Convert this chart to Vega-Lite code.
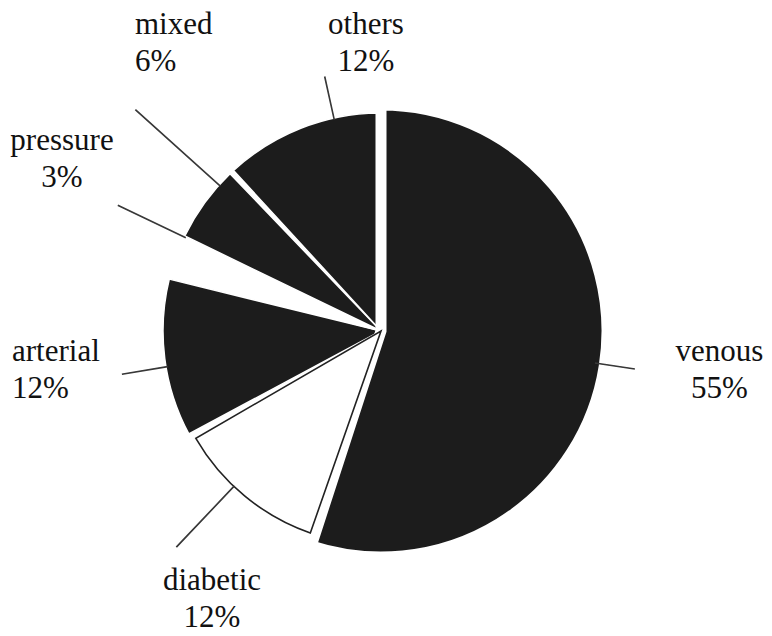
{
  "$schema": "https://vega.github.io/schema/vega-lite/v6.json",
  "width": 762,
  "height": 662,
  "autosize": {"type": "none"},
  "padding": {"left": 0, "top": 0, "right": 10, "bottom": 0},
  "background": "white",
  "config": {"view": {"stroke": null}},
  "data": {
    "values": [
      {"cat": "venous", "pct": 55, "idx": 1, "label": "venous\n55%"},
      {"cat": "diabetic", "pct": 12, "idx": 2, "label": "diabetic\n12%"},
      {"cat": "arterial", "pct": 12, "idx": 3, "label": "arterial\n12%"},
      {"cat": "pressure", "pct": 3, "idx": 4, "label": "pressure\n3%"},
      {"cat": "mixed", "pct": 6, "idx": 5, "label": "mixed\n6%"},
      {"cat": "others", "pct": 12, "idx": 6, "label": "others\n12%"}
    ]
  },
  "layer": [
    {
      "mark": {"type": "arc", "outerRadius": {"expr": "datum.cat === 'venous' ? 226 : 218"}, "padAngle": 0.022, "stroke": "white", "strokeWidth": 1.5},
      "encoding": {
        "theta": {"field": "pct", "type": "quantitative", "stack": true},
        "order": {"field": "idx", "type": "quantitative"},
        "fill": {
          "field": "cat",
          "type": "nominal",
          "scale": {
            "domain": ["venous", "diabetic", "arterial", "pressure", "mixed", "others"],
            "range": ["#1c1c1c", "#ffffff", "#1c1c1c", "#ffffff", "#1c1c1c", "#1c1c1c"]
          },
          "legend": null
        }
      }
    },
    {
      "mark": {"type": "arc", "outerRadius": 226, "fillOpacity": 0, "strokeWidth": 11},
      "encoding": {
        "theta": {"field": "pct", "type": "quantitative", "stack": true},
        "order": {"field": "idx", "type": "quantitative"},
        "stroke": {"condition": {"test": "datum.cat === 'venous'", "value": "#ffffff"}, "value": "transparent"}
      }
    },
    {
      "mark": {"type": "arc", "outerRadius": 214, "padAngle": 0.045, "fillOpacity": 0, "strokeWidth": 1.6},
      "encoding": {
        "theta": {"field": "pct", "type": "quantitative", "stack": true},
        "order": {"field": "idx", "type": "quantitative"},
        "stroke": {"condition": {"test": "datum.cat === 'diabetic'", "value": "#222222"}, "value": "transparent"}
      }
    },
    {
      "transform": [
        {"stack": "pct", "groupby": [], "sort": [{"field": "idx", "order": "ascending"}], "as": ["s0", "s1"]}
      ],
      "mark": {
        "type": "arc",
        "fill": "#383838",
        "stroke": "#383838",
        "strokeWidth": 1.4,
        "innerRadius": {"expr": "datum.cat === 'diabetic' ? 214 : 217"},
        "outerRadius": {"expr": "datum.cat === 'venous' ? 256 : datum.cat === 'diabetic' ? 297 : datum.cat === 'arterial' ? 262 : datum.cat === 'pressure' ? 291 : datum.cat === 'mixed' ? 330 : 260"},
        "thetaOffset": {"expr": "datum.cat === 'venous' ? 1.7191 : datum.cat === 'diabetic' ? 0.4433 : datum.cat === 'arterial' ? 0.3369 : datum.cat === 'pressure' ? 0.1937 : datum.cat === 'mixed' ? 0.2932 : 0.5358"},
        "theta2Offset": {"expr": "datum.cat === 'venous' ? -1.7357 : datum.cat === 'diabetic' ? -0.3096 : datum.cat === 'arterial' ? -0.4161 : datum.cat === 'pressure' ? 0.0062 : datum.cat === 'mixed' ? -0.0828 : -0.2172"}
      },
      "encoding": {
        "theta": {"field": "s0", "type": "quantitative", "stack": null},
        "theta2": {"field": "s1"}
      }
    },
    {
      "mark": {
        "type": "text",
        "font": "Liberation Serif",
        "fontSize": 31,
        "lineHeight": 37,
        "lineBreak": "\n",
        "color": "#111111",
        "radius": 300,
        "align": {"expr": "datum.cat === 'arterial' || datum.cat === 'mixed' ? 'left' : 'center'"},
        "radiusOffset": {"expr": "datum.cat === 'venous' ? 39 : datum.cat === 'diabetic' ? 1.8 : datum.cat === 'arterial' ? 69.6 : datum.cat === 'pressure' ? 71.3 : datum.cat === 'mixed' ? 92.6 : 6.4"},
        "thetaOffset": {"expr": "datum.cat === 'venous' ? -0.0956 : datum.cat === 'diabetic' ? -0.0967 : datum.cat === 'arterial' ? 0.0688 : datum.cat === 'pressure' ? 0.1916 : datum.cat === 'mixed' ? 0.2653 : 0.328"}
      },
      "encoding": {
        "theta": {"field": "pct", "type": "quantitative", "stack": true},
        "order": {"field": "idx", "type": "quantitative"},
        "text": {"field": "label"}
      }
    }
  ]
}
